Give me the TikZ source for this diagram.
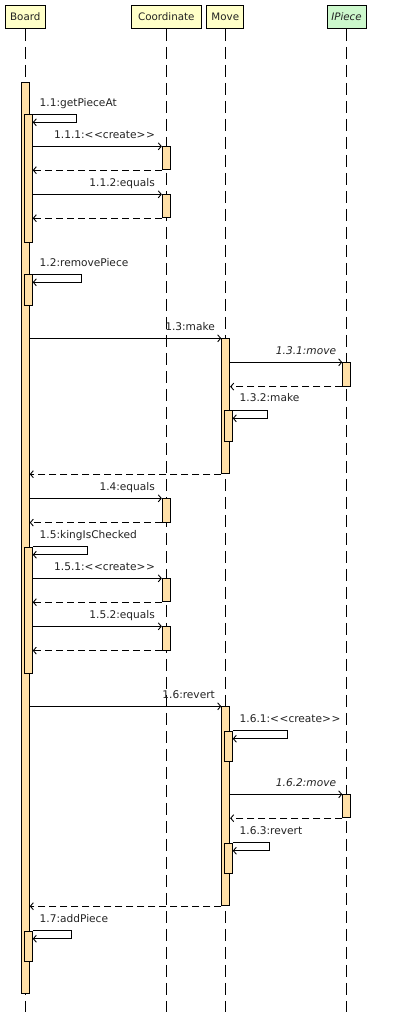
\documentclass[tikz,border=0pt]{standalone}
\usepackage{fontspec}
\setmainfont{DejaVu Sans}
\usetikzlibrary{arrows.meta}
\definecolor{actfill}{HTML}{FFE0A8}
\definecolor{hdrfill}{HTML}{FFFFC8}
\definecolor{ifill}{HTML}{CCF8CC}
\definecolor{txt}{HTML}{222222}
\newcommand{\stereo}[1]{{<}\kern0.5pt{<}#1{>}\kern0.5pt{>}}
\begin{document}
\begin{tikzpicture}[x=1pt,y=-1pt, line width=0.9pt,
  hdr/.style={draw, fill=hdrfill, minimum height=23pt, inner sep=0pt, text=txt, font=\fontsize{10.3}{12}\selectfont},
  act/.style={draw, fill=actfill, minimum width=8pt, inner sep=0pt, anchor=north},
  life/.style={dash pattern=on 12pt off 6pt},
  msg/.style={-{Straight Barb[length=3pt,width=7pt]}},
  ret/.style={msg, dash pattern=on 7pt off 4pt},
  lbl/.style={font=\fontsize{10.6}{12}\selectfont, inner sep=0pt, text=txt},
  lblr/.style={lbl, anchor=base east},
  lbls/.style={lbl, anchor=base west}]
\useasboundingbox (0,0) rectangle (411,1012);
% headers
\node[hdr, minimum width=40pt] (board) at (25.3,16.8) {Board};
\node[hdr, minimum width=69.4pt] (coord) at (166.3,16.8) {Coordinate};
\node[hdr, minimum width=37pt] (move) at (225.3,16.8) {Move};
\node[hdr, minimum width=39pt, fill=ifill, font=\fontsize{10.3}{12}\selectfont\itshape] (ipiece) at (346.5,16.8) {IPiece};
% lifeline ends
\coordinate (boardEnd) at (25.3,1012);
\coordinate (coordEnd) at (166.3,1012);
\coordinate (moveEnd) at (225.3,1012);
\coordinate (ipieceEnd) at (346.5,1012);
\draw[life] (board.south) -- (boardEnd);
\draw[life] (coord.south) -- (coordEnd);
\draw[life] (move.south) -- (moveEnd);
\draw[life] (ipiece.south) -- (ipieceEnd);
% Board main activation
\node[act, minimum height=911pt] (bA) at (25.3,82.3) {};
% 1.1 getPieceAt
\node[act, minimum height=127.4pt] (b11) at (28.3,114.3) {};
\draw[msg] (b11.north east) -- ++(44,0) -- ++(0,8) -- ++(-44,0);
\node[lbls] (l11) at ([shift={(6.5,-8)}]b11.north east) {1.1:getPieceAt};
\node[act, minimum height=23pt] (c111) at (166.3,146.3) {};
\draw[msg] (b11.east |- c111.north) -- (c111.north west);
\draw[ret] (c111.south west) -- (b11.east |- c111.south);
\node[lblr] (l111) at ([shift={(-6.5,-8)}]c111.north west) {1.1.1:\stereo{create}};
\node[act, minimum height=23pt] (c112) at (166.3,194.3) {};
\draw[msg] (b11.east |- c112.north) -- (c112.north west);
\draw[ret] (c112.south west) -- (b11.east |- c112.south);
\node[lblr] (l112) at ([shift={(-6.5,-8)}]c112.north west) {1.1.2:equals};
% 1.2 removePiece
\node[act, minimum height=31pt] (b12) at (28.3,274.3) {};
\draw[msg] (b12.north east) -- ++(49,0) -- ++(0,8) -- ++(-49,0);
\node[lbls] (l12) at ([shift={(6.5,-8)}]b12.north east) {1.2:removePiece};
% 1.3 make
\node[act, minimum height=135pt] (m13) at (225.7,338.3) {};
\draw[msg] (bA.east |- m13.north) -- (m13.north west);
\draw[ret] (m13.south west) -- (bA.east |- m13.south);
\node[lblr] (l13) at ([shift={(-6,-8)}]m13.north west) {1.3:make};
\node[act, minimum height=23.4pt] (i131) at (346.7,362.3) {};
\draw[msg] (m13.east |- i131.north) -- (i131.north west);
\draw[ret] (i131.south west) -- (m13.east |- i131.south);
\node[lblr, font=\fontsize{10.6}{12}\selectfont\itshape] (l131) at ([shift={(-5.7,-8)}]i131.north west) {1.3.1:move};
\node[act, minimum height=31pt] (m132) at (228.3,410.3) {};
\draw[msg] (m132.north east) -- ++(35,0) -- ++(0,8) -- ++(-35,0);
\node[lbls] (l132) at ([shift={(6.5,-9)}]m132.north east) {1.3.2:make};
% 1.4 equals
\node[act, minimum height=23.4pt] (c14) at (166.3,498.3) {};
\draw[msg] (bA.east |- c14.north) -- (c14.north west);
\draw[ret] (c14.south west) -- (bA.east |- c14.south);
\node[lblr] (l14) at ([shift={(-6.5,-8)}]c14.north west) {1.4:equals};
% 1.5 kingIsChecked
\node[act, minimum height=126.6pt] (b15) at (28.3,546.7) {};
\draw[msg] (b15.north east) -- ++(55,0) -- ++(0,8) -- ++(-55,0);
\node[lbls] (l15) at ([shift={(6.5,-8.5)}]b15.north east) {1.5:kingIsChecked};
\node[act, minimum height=23pt] (c151) at (166.3,578.3) {};
\draw[msg] (b15.east |- c151.north) -- (c151.north west);
\draw[ret] (c151.south west) -- (b15.east |- c151.south);
\node[lblr] (l151) at ([shift={(-6.5,-8)}]c151.north west) {1.5.1:\stereo{create}};
\node[act, minimum height=23.4pt] (c152) at (166.3,626.3) {};
\draw[msg] (b15.east |- c152.north) -- (c152.north west);
\draw[ret] (c152.south west) -- (b15.east |- c152.south);
\node[lblr] (l152) at ([shift={(-6.5,-8)}]c152.north west) {1.5.2:equals};
% 1.6 revert
\node[act, minimum height=199pt] (m16) at (225.7,706.3) {};
\draw[msg] (bA.east |- m16.north) -- (m16.north west);
\draw[ret] (m16.south west) -- (bA.east |- m16.south);
\node[lblr] (l16) at ([shift={(-6,-8)}]m16.north west) {1.6:revert};
\node[act, minimum height=30.6pt] (m161) at (228.3,730.7) {};
\draw[msg] (m161.north east) -- ++(55,0) -- ++(0,8) -- ++(-55,0);
\node[lbls] (l161) at ([shift={(6.5,-8.5)}]m161.north east) {1.6.1:\stereo{create}};
\node[act, minimum height=23pt] (i162) at (346.7,794.3) {};
\draw[msg] (m16.east |- i162.north) -- (i162.north west);
\draw[ret] (i162.south west) -- (m16.east |- i162.south);
\node[lblr, font=\fontsize{10.6}{12}\selectfont\itshape] (l162) at ([shift={(-5.7,-8)}]i162.north west) {1.6.2:move};
\node[act, minimum height=30.6pt] (m163) at (228.3,842.7) {};
\draw[msg] (m163.north east) -- ++(37,0) -- ++(0,8) -- ++(-37,0);
\node[lbls] (l163) at ([shift={(6.5,-8.5)}]m163.north east) {1.6.3:revert};
% 1.7 addPiece
\node[act, minimum height=30.6pt] (b17) at (28.3,930.7) {};
\draw[msg] (b17.north east) -- ++(39,0) -- ++(0,8) -- ++(-39,0);
\node[lbls] (l17) at ([shift={(6.5,-8.5)}]b17.north east) {1.7:addPiece};
\end{tikzpicture}
\end{document}
